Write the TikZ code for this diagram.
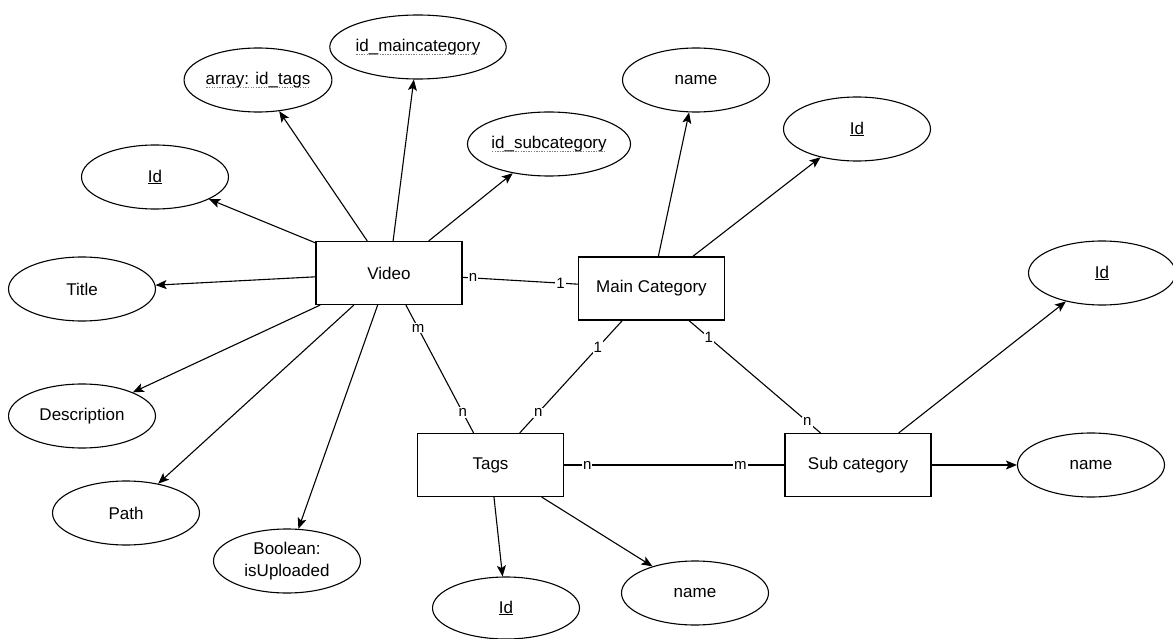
\documentclass[tikz,border=0pt]{standalone}
\usepackage{fontspec}
\setmainfont{Liberation Sans}
\usetikzlibrary{shapes.geometric,arrows.meta}
\newcommand\dotul[1]{\leavevmode\setbox0\hbox{#1}\copy0\llap{\lower3.5pt\hbox to\wd0{\color{gray}\leaders\hbox to 2.6pt{\hss\rule{1.3pt}{0.9pt}\hss}\hfill}}}
\tikzset{
  ent/.style={draw, rectangle, line width=1.1pt, minimum width=146pt, minimum height=63pt, inner sep=0pt, font=\fontsize{17}{19}\selectfont},
  attr/.style={draw, ellipse, line width=1.1pt, minimum width=147pt, minimum height=64pt, inner sep=0pt, align=center, font=\fontsize{17}{22}\selectfont},
  arr/.style={line width=1.1pt, -{Stealth[length=11pt,width=9pt,inset=2.5pt]}},
  rel/.style={line width=1.1pt},
  card/.style={fill=white, inner sep=1pt, font=\fontsize{15}{15}\selectfont}
}
\begin{document}
\begin{tikzpicture}[x=1pt,y=-1pt]
\useasboundingbox (0,0) rectangle (1173,639);
% entities
\node[ent] (video) at (389,273) {Video};
\node[ent] (main) at (651.5,288.5) {Main Category};
\node[ent] (tags) at (490.5,465) {Tags};
\node[ent] (sub) at (858,465) {Sub category};
% video attributes
\node[attr] (vid) at (155,177) {\underline{Id}};
\node[attr] (title) at (82,289) {Title};
\node[attr] (desc) at (82,416) {Description};
\node[attr] (path) at (126,513) {Path};
\node[attr] (bool) at (287,561) {Boolean:\\isUploaded};
\node[attr] (vtags) at (258,80) {\dotul{array: id\_tags}};
\node[attr] (vmain) at (418,47) {\dotul{id\_maincategory}};
\node[attr] (vsub) at (549,144) {\dotul{id\_subcategory}};
% main category attributes
\node[attr] (mname) at (696,80) {name};
\node[attr] (mid) at (857,129) {\underline{Id}};
% sub category attributes
\node[attr] (sid) at (1102,273) {\underline{Id}};
\node[attr] (sname) at (1091,465) {name};
% tags attributes
\node[attr, minimum height=62pt] (tid) at (506,608) {\underline{Id}};
\node[attr] (tname) at (695,593) {name};
% attribute arrows
\draw[arr] (video) -- (vid);
\draw[arr] (video) -- (title);
\draw[arr] (video) -- (desc);
\draw[arr] (video) -- (path);
\draw[arr] (video) -- (bool);
\draw[arr] (video) -- (vtags);
\draw[arr] (video) -- (vmain);
\draw[arr] (video) -- (vsub);
\draw[arr] (main) -- (mname);
\draw[arr] (main) -- (mid);
\draw[arr] (sub) -- (sid);
\draw[arr] (sub) -- (sname);
\draw[arr] (tags) -- (tid);
\draw[arr] (tags) -- (tname);
% relationships
\draw[rel] (video) -- node[card, pos=0.09] {n} node[card, pos=0.85] {1} (main);
\draw[rel] (video) -- node[card, pos=0.18] {m} node[card, pos=0.84] {n} (tags);
\draw[rel] (main) -- node[card, pos=0.24] {1} node[card, pos=0.82] {n} (tags);
\draw[rel] (main) -- node[card, pos=0.15] {1} node[card, pos=0.9] {n} (sub);
\draw[rel] (tags) -- node[card, pos=0.105] {n} node[card, pos=0.8] {m} (sub);
\end{tikzpicture}
\end{document}
